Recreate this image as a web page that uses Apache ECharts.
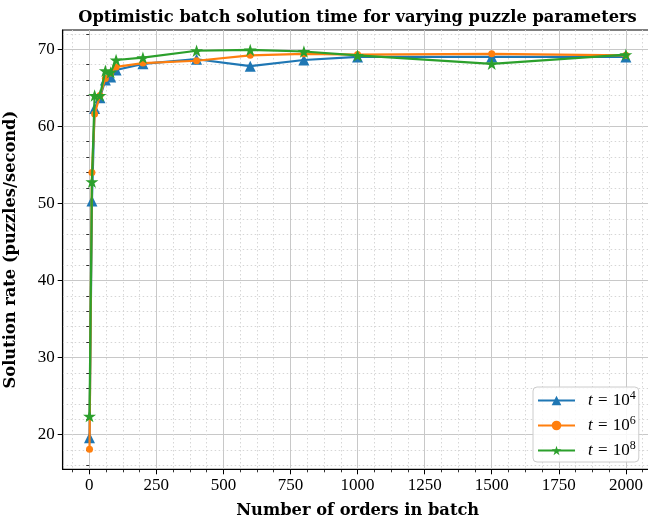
<!DOCTYPE html>
<html>
<head>
<meta charset="utf-8">
<script src="https://cdn.jsdelivr.net/npm/echarts@6/dist/echarts.min.js"></script>
<style>html,body{margin:0;padding:0;background:#fff}#chart{width:648px;height:516px}</style>
</head>
<body>
<div id="chart"></div>
<script>
// ---- data ----
const orders = [1, 10, 20, 40, 60, 80, 100, 200, 400, 600, 800, 1000, 1500, 2000];
const rateT4 = [19.6, 50.3, 62.3, 63.7, 66.0, 66.4, 67.3, 68.1, 68.7, 67.8, 68.6, 69.0, 69.0, 69.0];
const rateT6 = [18.1, 54.0, 61.6, 64.0, 66.2, 66.9, 67.7, 68.2, 68.5, 69.2, 69.4, 69.3, 69.4, 69.2];
const rateT8 = [22.4, 52.8, 64.0, 64.0, 67.2, 67.0, 68.6, 68.9, 69.8, 69.9, 69.7, 69.2, 68.1, 69.3];
const seriesExponents = ['4', '6', '8'];
const xMajorTicks = [0, 250, 500, 750, 1000, 1250, 1500, 1750, 2000];
const xMinorTicks = [-62.5, 62.5, 125, 187.5, 312.5, 375, 437.5, 562.5, 625, 687.5, 812.5, 875, 937.5,
  1062.5, 1125, 1187.5, 1312.5, 1375, 1437.5, 1562.5, 1625, 1687.5, 1812.5, 1875, 1937.5, 2062.5];
const yMajorTicks = [20, 30, 40, 50, 60, 70];
const yMinorTicks = [16, 18, 22, 24, 26, 28, 32, 34, 36, 38, 42, 44, 46, 48, 52, 54, 56, 58, 62, 64, 66, 68, 72];
const titleText = 'Optimistic batch solution time for varying puzzle parameters';
const xTitle = 'Number of orders in batch';
const yTitle = 'Solution rate (puzzles/second)';

// ---- chart ----
const FONT = 'Liberation Serif';
const BFONT = 'DejaVu Serif';
const BSIZE = 16.3;
const colors = ['#1f77b4', '#ff7f0e', '#2ca02c'];
const starPath = 'path://M0,-1000L224,-309L951,-309L363,118L588,809L0,382L-588,809L-363,118L-951,-309L-224,-309Z';

const allY = rateT4.concat(rateT6, rateT8);
const yLo = Math.min(...allY), yHi = Math.max(...allY);
const yPad = (yHi - yLo) * 0.05;
const xLo = Math.min(...orders), xHi = Math.max(...orders);
const xPad = (xHi - xLo) * 0.05;

function pairs(ys) { return orders.map((x, i) => [x, ys[i]]); }
const names = seriesExponents.map(e => 't = 10^' + e);

const chart = echarts.init(document.getElementById('chart'), null, {renderer: 'canvas'});

const baseX = {type: 'value', min: xLo - xPad, max: xHi + xPad, gridIndex: 0, position: 'bottom'};
const baseY = {type: 'value', min: yLo - yPad, max: yHi + yPad, gridIndex: 0, position: 'left'};
const plain = v => String(v);

chart.setOption({
  backgroundColor: '#ffffff',
  animation: false,
  textStyle: {fontFamily: FONT},
  title: {
    text: titleText, left: 352.5, top: 5, textAlign: 'center',
    textStyle: {fontFamily: BFONT, fontWeight: 'bold', fontSize: BSIZE, color: '#000'}
  },
  grid: {left: 62.7, top: 30, width: 590, bottom: 46.7, outerBoundsMode: 'none', containLabel: false,
         show: true, borderColor: '#000', borderWidth: 1.1, backgroundColor: '#fff'},
  xAxis: [
    Object.assign({}, baseX, {
      name: xTitle, nameLocation: 'middle', nameGap: 33,
      nameTextStyle: {fontFamily: BFONT, fontWeight: 'bold', fontSize: BSIZE, color: '#000'},
      axisLine: {show: true, onZero: false, lineStyle: {color: '#000', width: 1.1}},
      axisTick: {show: true, inside: false, length: 5, customValues: xMajorTicks, lineStyle: {color: '#000', width: 1}},
      axisLabel: {customValues: xMajorTicks, formatter: plain, fontFamily: FONT, fontSize: 17, color: '#000', margin: 8},
      splitLine: {show: true, lineStyle: {color: '#c8c8c8', width: 1, type: 'solid'}}
    }),
    Object.assign({}, baseX, {
      axisLine: {show: false},
      axisTick: {show: true, inside: false, length: 3, customValues: xMinorTicks, lineStyle: {color: '#000', width: 0.8}},
      axisLabel: {show: false},
      splitLine: {show: true, lineStyle: {color: '#d6d6d6', width: 1, type: [1.5, 2.5]}}
    })
  ],
  yAxis: [
    Object.assign({}, baseY, {
      name: yTitle, nameLocation: 'middle', nameGap: 44, nameRotate: 90,
      nameTextStyle: {fontFamily: BFONT, fontWeight: 'bold', fontSize: BSIZE, color: '#000'},
      axisLine: {show: true, onZero: false, lineStyle: {color: '#000', width: 1.1}},
      axisTick: {show: true, inside: false, length: 5, customValues: yMajorTicks, lineStyle: {color: '#000', width: 1}},
      axisLabel: {customValues: yMajorTicks, formatter: plain, fontFamily: FONT, fontSize: 17, color: '#000', margin: 8},
      splitLine: {show: true, lineStyle: {color: '#c8c8c8', width: 1, type: 'solid'}}
    }),
    Object.assign({}, baseY, {
      axisLine: {show: false},
      axisTick: {show: true, inside: false, length: 3, customValues: yMinorTicks, lineStyle: {color: '#000', width: 0.8}},
      axisLabel: {show: false},
      splitLine: {show: true, lineStyle: {color: '#d6d6d6', width: 1, type: [1.5, 2.5]}}
    })
  ],
  legend: {
    left: 533, top: 387, orient: 'vertical',
    data: names,
    itemWidth: 37, itemHeight: 12, itemGap: 6,
    padding: [3, 3, 3, 4],
    backgroundColor: 'rgba(255,255,255,0.85)', borderColor: '#cccccc', borderWidth: 1, borderRadius: 4,
    formatter: function (name) {
      const e = name.split('^')[1];
      return '{i|t} {e|=} 10{s|' + e + '}';
    },
    textStyle: {
      fontFamily: FONT, fontSize: 17, color: '#000', padding: [0, 0, 0, 8],
      rich: {
        i: {fontFamily: FONT, fontStyle: 'italic', fontSize: 17},
        e: {fontFamily: FONT, fontSize: 17, padding: [0, 1, 0, 1]},
        s: {fontFamily: FONT, fontSize: 12, padding: [0, 0, 9, 0]}
      }
    }
  },
  series: [
    {name: names[0], type: 'line', data: pairs(rateT4), xAxisIndex: 0, yAxisIndex: 0, color: colors[0],
     symbol: 'triangle', symbolSize: 11, lineStyle: {width: 2.2}, itemStyle: {color: colors[0]}, z: 3},
    {name: names[1], type: 'line', data: pairs(rateT6), xAxisIndex: 0, yAxisIndex: 0, color: colors[1],
     symbol: 'circle', symbolSize: 7, lineStyle: {width: 2.2}, itemStyle: {color: colors[1]}, z: 4},
    {name: names[2], type: 'line', data: pairs(rateT8), xAxisIndex: 0, yAxisIndex: 0, color: colors[2],
     symbol: starPath, symbolSize: 13, symbolKeepAspect: true, lineStyle: {width: 2.2}, itemStyle: {color: colors[2]}, z: 5}
  ]
});
</script>
</body>
</html>
